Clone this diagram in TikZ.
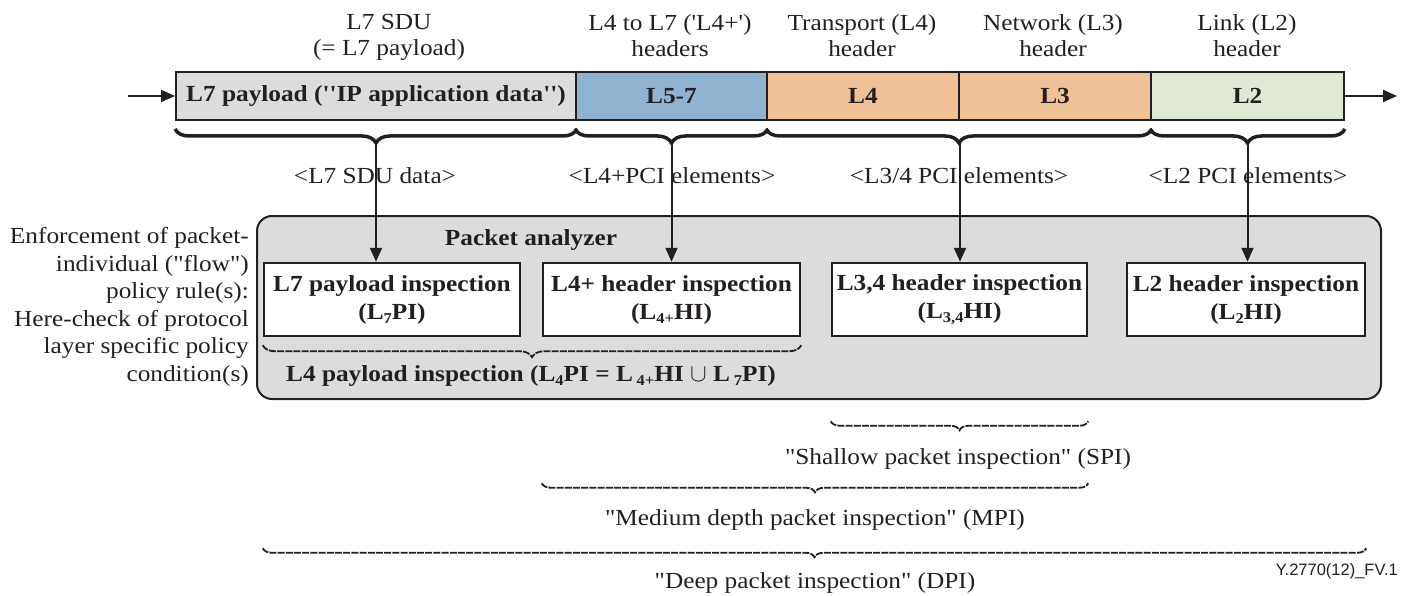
\documentclass[tikz,border=0pt]{standalone}
\usepackage{fontspec}
\newfontfamily\tnr{Liberation Serif}[FakeStretch=1.1]
\newfontfamily\arl{Liberation Sans}
\usetikzlibrary{arrows.meta,decorations.pathreplacing}
\newcommand\lsub[1]{\raisebox{-4pt}{\fontsize{15}{15}\selectfont #1}}
\definecolor{edge}{HTML}{231F20}
\definecolor{cgray}{HTML}{DCDCDC}
\definecolor{cblue}{HTML}{8FB3D1}
\definecolor{corange}{HTML}{F0C196}
\definecolor{cgreen}{HTML}{DEE8D3}
\begin{document}
\begin{tikzpicture}[x=1pt,y=-1pt,line join=miter,
  txt/.style={font={\tnr\fontsize{23}{27.5}\selectfont},inner sep=0pt,text=edge},
  toplab/.style={font={\tnr\fontsize{23}{26}\selectfont},inner sep=0pt,align=center,anchor=north,text=edge},
  btxt/.style={font={\tnr\bfseries\fontsize{23}{27.5}\selectfont},inner sep=0pt,text=edge},
  cell/.style={draw=edge,line width=2pt,minimum height=48pt,inner sep=0pt,text=edge,
    font={\tnr\bfseries\fontsize{23}{27.5}\selectfont}},
  ibox/.style={draw=edge,fill=white,line width=2.5pt,minimum height=73pt,align=center,inner sep=0pt,text=edge,
    font={\tnr\bfseries\fontsize{23}{28}\selectfont}},
  arr/.style={draw=edge,line width=2pt,-{Triangle[length=14pt,width=12pt]}},
  bigbrace/.style={draw=edge,decorate,decoration={brace,mirror,amplitude=14pt},line width=3.5pt},
  thinbrace/.style={draw=edge,decorate,decoration={brace,mirror,amplitude=9pt},line width=1.8pt,dash pattern=on 7pt off 1.2pt},
  dbrace/.style={draw=edge,decorate,decoration={brace,mirror,amplitude=12pt},line width=1.8pt,dash pattern=on 7pt off 1.2pt},
]
\useasboundingbox (0,0) rectangle (1410,596);

% packet bar
\node[cell,fill=cgray,minimum width=400pt] (c7) at (376,96) {L7 payload (''IP application data'')};
\node[cell,fill=cblue,minimum width=191pt] (c5) at (671.5,96) {L5-7};
\node[cell,fill=corange,minimum width=192pt] (c4) at (863,96) {L4};
\node[cell,fill=corange,minimum width=192pt] (c3) at (1055,96) {L3};
\node[cell,fill=cgreen,minimum width=193pt] (c2) at (1247.5,96) {L2};

\coordinate (in) at (128,96);
\coordinate (out) at (1397,96);
\draw[arr] (in) -- (c7.west);
\draw[arr] (c2.east) -- (out);

% top labels
\node[toplab] (h7) at (389,14.5) {L7 SDU\\(= L7 payload)};
\node[toplab] (h5) at (670,14.5) {L4 to L7 ('L4+')\\headers};
\node[toplab] (h4) at (862,14.5) {Transport (L4)\\header};
\node[toplab] (h3) at (1053,14.5) {Network (L3)\\header};
\node[toplab] (h2) at (1247,14.5) {Link (L2)\\header};

% braces under bar
\draw[bigbrace] ([yshift=-8pt]c7.south west) -- ([yshift=-8pt]c7.south east);
\draw[bigbrace] ([yshift=-8pt]c5.south west) -- ([yshift=-8pt]c5.south east);
\draw[bigbrace] ([yshift=-8pt]c4.south west) -- ([yshift=-8pt]c3.south east);
\draw[bigbrace] ([yshift=-8pt]c2.south west) -- ([yshift=-8pt]c2.south east);
\coordinate (t1) at ([yshift=-22pt]c7.south);
\coordinate (t2) at ([yshift=-22pt]c5.south);
\coordinate (t3) at ([yshift=-22pt]c4.south east);
\coordinate (t4) at ([yshift=-22pt]c2.south);

% packet analyzer
\node[draw=edge,fill=cgray,line width=2pt,rounded corners=15pt,minimum width=1124pt,minimum height=183pt,inner sep=0pt] (pa) at (819,307.5) {};
\node[btxt,anchor=base] (pat) at (531,245) {Packet analyzer};

\node[ibox,minimum width=256pt] (b7) at (392,299.5) {L7 payload inspection\\(L\lsub{7}PI)};
\node[ibox,minimum width=257pt] (b4) at (671.5,299.5) {L4+ header inspection\\(L\lsub{4+}HI)};
\node[ibox,minimum width=255pt] (b34) at (959.5,299.5) {L3,4 header inspection\\(L\lsub{3,4}HI)};
\node[ibox,minimum width=238pt] (b2) at (1246,299.5) {L2 header inspection\\(L\lsub{2}HI)};

% element labels and arrows
\node[txt,anchor=base] (e1) at (375,184) {<L7 SDU data>};
\node[txt,anchor=base] (e2) at (672,184) {<L4+PCI elements>};
\node[txt,anchor=base] (e3) at (959,184) {<L3/4 PCI elements>};
\node[txt,anchor=base] (e4) at (1248,184) {<L2 PCI elements>};
\draw[arr] (t1) -- (t1 |- b7.north);
\draw[arr] (t2) -- (t2 |- b4.north);
\draw[arr] (t3) -- (t3 |- b34.north);
\draw[arr] (t4) -- (t4 |- b2.north);

% left text
\node[txt,align=right,anchor=north east] (lt) at (249,227.5) {Enforcement of packet-\\individual ("flow")\\policy rule(s):\\Here-check of protocol\\layer specific policy\\condition(s)};

% L4 payload inspection brace
\draw[dbrace] ([yshift=-8pt]b7.south west) -- ([yshift=-8pt]b4.south east);
\node[btxt,anchor=base] (l4p) at (531,381) {L4 payload inspection (L\lsub{4}PI = L\,\lsub{4+}HI $\cup$ L\,\lsub{7}PI)};

% lower braces
\draw[thinbrace] ([yshift=-84pt]b34.south west) -- ([yshift=-84pt]b34.south east);
\node[txt,anchor=base] (spi) at (958,464) {"Shallow packet inspection" (SPI)};
\draw[thinbrace] ([yshift=-146pt]b4.south west) -- ([yshift=-146pt]b34.south east);
\node[txt,anchor=base] (mpi) at (815,525) {"Medium depth packet inspection" (MPI)};
\draw[thinbrace] ([yshift=-211pt]b7.south west) -- ([yshift=-211pt]b2.south east);
\node[txt,anchor=base] (dpi) at (815,588) {"Deep packet inspection" (DPI)};

\node[font={\arl\fontsize{16.5}{16.5}\selectfont},anchor=base east,inner sep=0pt,text=edge] (fig) at (1398,575) {Y.2770(12)\_FV.1};
\end{tikzpicture}
\end{document}
